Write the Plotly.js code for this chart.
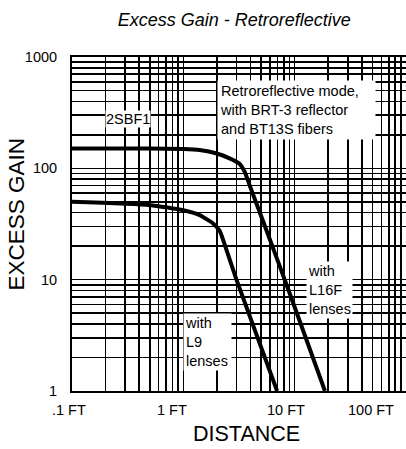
<!DOCTYPE html>
<html>
<head>
<meta charset="utf-8">
<script src="https://cdn.plot.ly/plotly-3.0.1.min.js"></script>
<style>
  html, body { margin: 0; padding: 0; background: #fff; }
  #chart { width: 406px; height: 449px; }
</style>
</head>
<body>
<div id="chart"></div>
<script>
// ---- data ----
const distL16F = [0.1, 0.5, 1.0, 1.4, 2.0, 2.6, 3.16, 3.56, 3.95, 5.58, 9.0, 18.7];
const gainL16F = [151, 151, 149, 146, 136, 123, 111, 93, 70, 27.8, 7.6, 1];

const distL9 = [0.1, 0.5, 1.0, 1.4, 1.85, 2.12, 2.44, 3.0, 6.95];
const gainL9 = [50, 46.7, 42, 38, 32, 27.5, 18.5, 10, 1];

const xTickVals = [0.1, 1, 10, 100];
const xTickText = ['.1 FT', '1 FT', '10 FT', '100 FT'];
const yTickVals = [1, 10, 100, 1000];
const yTickText = ['1', '10', '100', '1000'];

const labelSensor = '2SBF1';
const labelMode = 'Retroreflective mode,<br>with BRT-3 reflector<br>and BT13S fibers';
const labelL16F = 'with<br>L16F<br>lenses';
const labelL9 = 'with<br>L9<br>lenses';
const chartTitle = 'Excess Gain - Retroreflective';
const xTitle = 'DISTANCE';
const yTitle = 'EXCESS GAIN';

// ---- layout helpers ----
const FONT = 'Liberation Sans, Arial, Helvetica, sans-serif';
const xRange = [-1, 2];
const yRange = [0, 3];

function gridValues(lo, hi) {
  const out = [];
  for (let e = lo; e < hi; e++) {
    for (let d = 1; d <= 9; d++) out.push(d * Math.pow(10, e));
  }
  out.push(Math.pow(10, hi));
  return out;
}
const xGrid = gridValues(xRange[0], xRange[1]);
const yGrid = gridValues(yRange[0], yRange[1]);
const yGridText = yGrid.map(v => {
  const i = yTickVals.indexOf(v);
  return i >= 0 ? yTickText[i] : '';
});

const xLabelShift = [-3, -11, -9, -35];

const traces = [
  { x: distL16F, y: gainL16F, mode: 'lines', type: 'scatter',
    line: { color: '#000', width: 4, shape: 'spline', smoothing: 0.5 }, hoverinfo: 'skip' },
  { x: distL9, y: gainL9, mode: 'lines', type: 'scatter',
    line: { color: '#000', width: 4, shape: 'spline', smoothing: 0.5 }, hoverinfo: 'skip' }
];

const annotations = [];
xTickVals.forEach((v, i) => {
  annotations.push({
    text: xTickText[i], xref: 'paper', yref: 'paper',
    x: (Math.log10(v) - xRange[0]) / (xRange[1] - xRange[0]), y: 0,
    xshift: xLabelShift[i], yshift: -19,
    xanchor: 'center', yanchor: 'middle', showarrow: false,
    font: { family: FONT, size: 14.5, color: '#000' }
  });
});

const boxFont = { family: FONT, size: 14.5, color: '#000' };
annotations.push(
  { text: labelSensor, xref: 'paper', yref: 'paper', x: 0.169, y: 0.814,
    xanchor: 'center', yanchor: 'middle', showarrow: false, bgcolor: '#fff', borderpad: 0,
    font: boxFont },
  { text: labelMode, xref: 'paper', yref: 'paper', x: 0.435, y: 0.93,
    xanchor: 'left', yanchor: 'top', align: 'left', width: 153, showarrow: false,
    bgcolor: '#fff', borderpad: 2, font: boxFont },
  { text: labelL16F, xref: 'paper', yref: 'paper', x: 0.701, y: 0.39,
    xanchor: 'left', yanchor: 'top', align: 'left', width: 43, showarrow: false,
    bgcolor: '#fff', borderpad: 1, font: boxFont },
  { text: labelL9, xref: 'paper', yref: 'paper', x: 0.333, y: 0.233,
    xanchor: 'left', yanchor: 'top', align: 'left', width: 45, showarrow: false,
    bgcolor: '#fff', borderpad: 1, font: boxFont },
  { text: xTitle, xref: 'paper', yref: 'paper', x: 0.522, y: -0.129,
    xanchor: 'center', yanchor: 'middle', showarrow: false,
    font: { family: FONT, size: 21.5, color: '#000' } },
  { text: yTitle, xref: 'paper', yref: 'paper', x: -0.166, y: 0.53, textangle: -90,
    xanchor: 'center', yanchor: 'middle', showarrow: false,
    font: { family: FONT, size: 22.5, color: '#000' } }
);

const layout = {
  width: 406, height: 449,
  margin: { l: 72, r: 0, t: 57, b: 58, pad: 0 },
  paper_bgcolor: '#fff', plot_bgcolor: '#fff',
  showlegend: false,
  title: { text: '<i>' + chartTitle + '</i>', xref: 'container', yref: 'container',
           x: 0.577, y: 0.957, xanchor: 'center', yanchor: 'middle',
           font: { family: FONT, size: 18, color: '#000' } },
  xaxis: {
    type: 'log', range: xRange, tickmode: 'array', tickvals: xGrid,
    showticklabels: false, ticks: '',
    showgrid: true, gridcolor: '#000', gridwidth: 1.6,
    showline: true, linecolor: '#000', linewidth: 2, mirror: true,
    zeroline: false, fixedrange: true
  },
  yaxis: {
    type: 'log', range: yRange, tickmode: 'array', tickvals: yGrid, ticktext: yGridText,
    ticks: '', ticklabelstandoff: 10,
    tickfont: { family: FONT, size: 14.5, color: '#000' },
    showgrid: true, gridcolor: '#000', gridwidth: 1.6,
    showline: true, linecolor: '#000', linewidth: 2, mirror: true,
    zeroline: false, fixedrange: true
  },
  annotations: annotations
};

Plotly.newPlot('chart', traces, layout, { staticPlot: true, displayModeBar: false });
</script>
</body>
</html>
